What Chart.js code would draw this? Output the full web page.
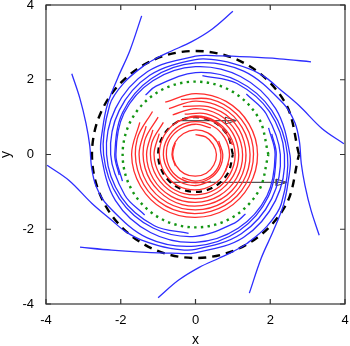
<!DOCTYPE html>
<html>
<head>
<meta charset="utf-8">
<script src="https://cdn.jsdelivr.net/npm/chart.js@4.4.1/dist/chart.umd.min.js"></script>
<style>
  html, body { margin: 0; padding: 0; background: #fff; }
  #plot { display: block; }
</style>
</head>
<body>
<canvas id="plot" width="350" height="346"></canvas>
<script>
// axis ticks
const tickValues = [-4, -2, 0, 2, 4];

const blueI = [[3.31,-2.16],[3.09,-1.49],[2.93,-0.83],[2.83,-0.24],[2.78,0.35],[2.66,0.85],[2.355,1.36],[1.29,2.23],[0,2.45],[-1.175,2.035],[-1.95,1.125],[-2.16,0],[-2.04,-0.55]];
const blueL = [[-3.31,2.16],[-3.09,1.49],[-2.93,0.83],[-2.83,0.24],[-2.78,-0.35],[-2.66,-0.85],[-2.355,-1.36],[-1.29,-2.23],[0,-2.45],[1.175,-2.035],[1.95,-1.125],[2.16,0],[2.04,0.55]];
const blueJ = [[3.97,0.29],[3.39,0.69],[2.77,1.31],[2.24,1.76],[1.89,2.05],[1.44,2.29],[0.67,2.51],[0,2.54],[-1.225,2.12],[-2.04,1.18],[-2.27,0],[-1.89,-1.09],[-1.36,-1.62]];
const blueE = [[-3.97,-0.29],[-3.39,-0.69],[-2.77,-1.31],[-2.24,-1.76],[-1.89,-2.05],[-1.44,-2.29],[-0.67,-2.51],[0,-2.54],[1.225,-2.12],[2.04,-1.18],[2.27,0],[1.89,1.09],[1.36,1.62]];
const blueTopFlat = [[3.09,2.48],[2.24,2.56],[1.44,2.61],[0.64,2.64],[0,2.63],[-1.28,2.22],[-2.14,1.235],[-2.38,0],[-1.98,-1.145],[-1.10,-1.905],[-0.185,-2.11]];
const blueBottomFlat = [[-3.09,-2.48],[-2.24,-2.56],[-1.44,-2.61],[-0.64,-2.64],[0,-2.63],[1.28,-2.22],[2.14,-1.235],[2.38,0],[1.98,1.145],[1.10,1.905],[0.185,2.11]];
const blueT = [[-1.44,3.71],[-1.76,2.77],[-2.08,2.05],[-2.35,1.36],[-2.48,0.72],[-2.53,0.03],[-2.14,-1.235],[-1.205,-2.087],[0,-2.35],[1.14,-1.975],[1.914,-1.105],[2.13,0],[1.955,0.71]];
const blueH = [[1.44,-3.71],[1.76,-2.77],[2.08,-2.05],[2.35,-1.36],[2.48,-0.72],[2.53,-0.03],[2.14,1.235],[1.205,2.087],[0,2.35],[-1.14,1.975],[-1.914,1.105],[-2.13,0],[-1.955,-0.71]];
const blueA = [[1.0,3.83],[0.45,3.36],[-0.1,3.02],[-0.64,2.77],[-1.0,2.6],[-1.375,2.38],[-1.916,1.916],[-2.295,1.325],[-2.46,0],[-2.04,-1.18],[-1.135,-1.966],[0,-2.19],[1.055,-1.827],[1.337,-1.593]];
const blueG = [[-1.0,-3.83],[-0.45,-3.36],[0.1,-3.02],[0.64,-2.77],[1.0,-2.6],[1.375,-2.38],[1.916,-1.916],[2.295,-1.325],[2.46,0],[2.04,1.18],[1.135,1.966],[0,2.19],[-1.055,1.827],[-1.337,1.593]];

// red spiral arcs, inner to outer
const red0 = [[-0.54,0.31],[-0.61,0],[-0.52,-0.30],[-0.30,-0.51],[0,-0.58],[0.29,-0.50],[0.49,-0.28],[0.56,0],[0.47,0.27],[0.27,0.47],[0,0.53]];
const red1 = [[-0.36,-0.62],[0,-0.71],[0.35,-0.61],[0.60,-0.35],[0.68,0],[0.58,0.34],[0.33,0.58],[0,0.66],[-0.32,0.56],[-0.55,0.32],[-0.63,0],[-0.54,-0.31]];
const red2 = [[0.41,0.71],[0,0.81],[-0.40,0.69],[-0.69,0.40],[-0.78,0],[-0.67,-0.39],[-0.38,-0.66],[0,-0.76],[0.37,-0.65],[0.64,-0.37],[0.73,0],[0.62,0.36]];
const red3 = [[0.80,-0.46],[0.91,0],[0.78,0.45],[0.45,0.77],[0,0.88],[-0.44,0.76],[-0.75,0.43],[-0.86,0],[-0.73,-0.42],[-0.42,-0.73],[0,-0.83],[0.41,-0.71]];
const red4 = [[0.99,0.26],[0.71,0.71],[0.26,0.97],[-0.26,0.96],[-0.70,0.70],[-0.94,0.25],[-0.93,-0.25],[-0.68,-0.68],[-0.25,-0.92],[0.24,-0.91],[0.66,-0.66],[0.89,-0.24]];
const red5 = [[-0.97,0.56],[-1.11,0],[-0.95,-0.55],[-0.55,-0.95],[0,-1.08],[0.54,-0.93],[0.92,-0.53],[1.06,0],[0.91,0.52],[0.52,0.90],[0,1.03],[-0.51,0.88]];
const red6 = [[-0.86,0.86],[-1.17,0.31],[-1.16,-0.31],[-0.84,-0.84],[-0.31,-1.14],[0.30,-1.14],[0.82,-0.82],[1.12,-0.30],[1.11,0.30],[0.81,0.81],[0.29,1.09],[-0.29,1.08]];
const red7 = [[-1.14,0.66],[-1.31,0],[-1.13,-0.65],[-0.65,-1.12],[0,-1.28],[0.64,-1.10],[1.10,-0.63],[1.26,0],[1.08,0.62],[0.62,1.07],[0,1.23],[-0.61,1.06]];
const red8 = [[-1.00,1.00],[-1.36,0.37],[-1.35,-0.36],[-0.98,-0.98],[-0.36,-1.34],[0.36,-1.33],[0.97,-0.97],[1.31,-0.35],[1.30,0.35],[0.95,0.95],[0.34,1.28],[-0.34,1.28]];
const red9 = [[-1.32,0.76],[-1.51,0],[-1.30,-0.75],[-0.75,-1.29],[0,-1.48],[0.74,-1.28],[1.27,-0.73],[1.46,0],[1.25,0.72],[0.72,1.25],[0,1.43],[-0.71,1.23]];
const red10 = [[-1.15,1.15],[-1.56,0.42],[-1.55,-0.41],[-1.13,-1.13],[-0.41,-1.53],[0.41,-1.52],[1.11,-1.11],[1.50,-0.40],[1.50,0.40],[1.09,1.09],[0.40,1.48],[-0.39,1.47]];
const red11 = [[-1.49,0.86],[-1.71,0],[-1.47,-0.85],[-0.85,-1.47],[0,-1.68],[0.84,-1.45],[1.44,-0.83],[1.66,0],[1.43,0.82],[0.82,1.42],[0,1.63],[-0.81,1.40]];

// circles
const greenCircle = [[1.95,0],[1.69,0.975],[0.975,1.69],[0,1.95],[-0.975,1.69],[-1.69,0.975],[-1.95,0],[-1.69,-0.975],[-0.975,-1.69],[0,-1.95],[0.975,-1.69],[1.69,-0.975],[1.95,0]];
const outerDashed = [[2.77,0],[2.40,1.385],[1.385,2.40],[0,2.77],[-1.385,2.40],[-2.40,1.385],[-2.77,0],[-2.40,-1.385],[-1.385,-2.40],[0,-2.77],[1.385,-2.40],[2.40,-1.385],[2.77,0]];
const innerDashed = [[1,0],[0.866,0.5],[0.5,0.866],[0,1],[-0.5,0.866],[-0.866,0.5],[-1,0],[-0.866,-0.5],[-0.5,-0.866],[0,-1],[0.5,-0.866],[0.866,-0.5],[1,0]];

// arrows
const arrowTop = [[-0.48,0.907],[1.09,0.907]];
const arrowTopHead = [[1.09,0.907],[0.80,0.997],[0.80,0.817],[1.09,0.907]];
const arrowBottom = [[-0.69,-0.747],[2.45,-0.747]];
const arrowBottomHead = [[2.45,-0.747],[2.16,-0.657],[2.16,-0.837],[2.45,-0.747]];

function toXY(arr) {
    return arr.map(p => ({x: p[0], y: p[1]}));
}

function curve(arr, color, width, extra) {
    return Object.assign({
        data: toXY(arr),
        showLine: true,
        borderColor: color,
        borderWidth: width,
        pointRadius: 0,
        tension: 0.35,
        fill: false
    }, extra || {});
}

const BLUE = 'rgb(45,45,255)';
const RED = 'rgb(255,45,45)';

const datasets = [];
[blueI, blueL, blueJ, blueE, blueTopFlat, blueBottomFlat, blueT, blueH, blueA, blueG].forEach(c => {
    datasets.push(curve(c, BLUE, 1.3));
});
[red0, red1, red2, red3, red4, red5, red6, red7, red8, red9, red10, red11].forEach(c => {
    datasets.push(curve(c, RED, 1.3));
});
datasets.push(curve(greenCircle, 'rgb(20,150,20)', 2.4, {borderDash: [2.4, 4.3]}));
datasets.push(curve(outerDashed, '#000', 2.4, {borderDash: [8, 6]}));
datasets.push(curve(innerDashed, '#000', 2.2, {borderDash: [6, 5]}));
datasets.push(curve(arrowTop, '#555', 1.1, {tension: 0}));
datasets.push(curve(arrowTopHead, '#444', 1, {tension: 0}));
datasets.push(curve(arrowBottom, '#555', 1.1, {tension: 0}));
datasets.push(curve(arrowBottomHead, '#444', 1, {tension: 0}));

// frame with gnuplot-like inward ticks on all four sides
const framePlugin = {
    id: 'frame',
    afterDatasetsDraw(chart) {
        const {ctx, chartArea: a, scales} = chart;
        ctx.save();
        ctx.strokeStyle = '#333';
        ctx.lineWidth = 1.2;
        ctx.strokeRect(a.left, a.top, a.right - a.left, a.bottom - a.top);
        ctx.beginPath();
        tickValues.forEach(v => {
            const px = scales.x.getPixelForValue(v);
            ctx.moveTo(px, a.bottom); ctx.lineTo(px, a.bottom - 5);
            ctx.moveTo(px, a.top); ctx.lineTo(px, a.top + 5);
            const py = scales.y.getPixelForValue(v);
            ctx.moveTo(a.left, py); ctx.lineTo(a.left + 5, py);
            ctx.moveTo(a.right, py); ctx.lineTo(a.right - 5, py);
        });
        ctx.stroke();
        ctx.restore();
    }
};

// fixed axis boxes, no extra room for overhanging tick labels
function fixBox(size) {
    return function(s) {
        if (s.isHorizontal()) { s.height = size; } else { s.width = size; }
        s.paddingTop = 0; s.paddingBottom = 0;
        s.paddingLeft = 0; s.paddingRight = 0;
    };
}

Chart.defaults.font.family = '"Liberation Sans", Arial, sans-serif';
Chart.defaults.color = '#000';

new Chart(document.getElementById('plot').getContext('2d'), {
    type: 'scatter',
    data: { datasets: datasets },
    options: {
        responsive: false,
        animation: false,
        layout: { autoPadding: false, padding: { top: 5, right: 5, left: 0, bottom: 0 } },
        plugins: { legend: { display: false }, tooltip: { enabled: false } },
        scales: {
            x: {
                type: 'linear',
                min: -4, max: 4,
                afterBuildTicks: s => { s.ticks = tickValues.map(v => ({value: v})); },
                afterFit: fixBox(42),
                grid: { display: false, drawTicks: false },
                border: { display: false },
                ticks: { padding: 9, font: { size: 13 } },
                title: { display: true, text: 'x', font: { size: 14 }, padding: { top: 0, bottom: -3 } }
            },
            y: {
                type: 'linear',
                min: -4, max: 4,
                afterBuildTicks: s => { s.ticks = tickValues.map(v => ({value: v})); },
                afterFit: fixBox(46),
                grid: { display: false, drawTicks: false },
                border: { display: false },
                ticks: { padding: 12, font: { size: 13 } },
                title: { display: true, text: 'y', font: { size: 14 }, padding: { top: -2, bottom: 0 } }
            }
        }
    },
    plugins: [framePlugin]
});
</script>
</body>
</html>
